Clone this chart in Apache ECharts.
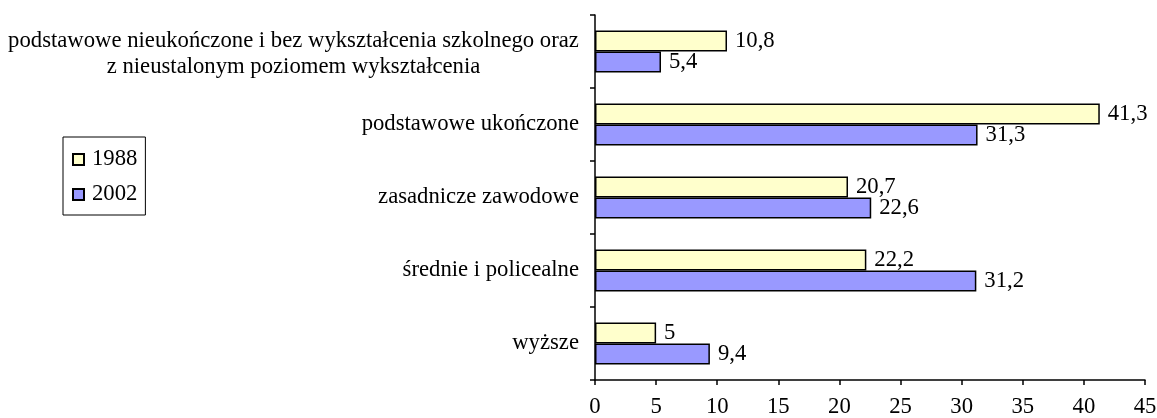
<!DOCTYPE html>
<html>
<head>
<meta charset="utf-8">
<script src="https://cdn.jsdelivr.net/npm/echarts@6/dist/echarts.min.js"></script>
<style>
    html, body { margin: 0; padding: 0; background: #fff; }
    #chart { width: 1157px; height: 418px; }
</style>
</head>
<body>
<div id="chart"></div>
<script>
// Kategorie od góry do dołu
const categories = [
    'podstawowe nieukończone i bez wykształcenia szkolnego oraz\nz nieustalonym poziomem wykształcenia',
    'podstawowe ukończone',
    'zasadnicze zawodowe',
    'średnie i policealne',
    'wyższe'
];
const seriesNames = ['1988', '2002'];
const values1988 = [10.8, 41.3, 20.7, 22.2, 5];
const values2002 = [5.4, 31.3, 22.6, 31.2, 9.4];
const xTicks = [0, 45, 5];

const font = 'Liberation Serif';
const fontSize = 22.7;
const chartEl = document.getElementById('chart');
const chart = echarts.init(chartEl, null, { renderer: 'canvas' });

// Szerokość pierwszej linii długiej etykiety (żeby druga linia była wyśrodkowana)
function measure(text) {
    const ctx = document.createElement('canvas').getContext('2d');
    ctx.font = fontSize + 'px "' + font + '"';
    return Math.ceil(ctx.measureText(text).width);
}
const longLabelWidth = measure(categories[0].split('\n')[0]);

function formatValue(v) {
    return String(v).replace('.', ',');
}

const barLabel = {
    show: true,
    position: 'right',
    distance: 8,
    color: '#000',
    fontFamily: font,
    fontSize: fontSize,
    formatter: function (p) {
        return formatValue(p.value);
    }
};

const option = {
    backgroundColor: '#fff',
    animation: false,
    legend: {
        orient: 'vertical',
        left: 63,
        top: 137,
        padding: [11, 8, 9, 9],
        itemGap: 12,
        itemWidth: 11,
        itemHeight: 11,
        borderColor: '#000',
        borderWidth: 1,
        icon: 'rect',
        data: seriesNames,
        textStyle: {
            color: '#000',
            fontFamily: font,
            fontSize: fontSize,
            padding: [0, 0, 0, 3]
        }
    },
    grid: {
        left: 595,
        right: 12,
        top: 15,
        bottom: 38,
        containLabel: false,
        outerBoundsMode: 'none'
    },
    xAxis: {
        type: 'value',
        min: xTicks[0],
        max: xTicks[1],
        interval: xTicks[2],
        axisLine: { show: true, lineStyle: { color: '#000', width: 1.5 } },
        axisTick: { show: true, length: 5, lineStyle: { color: '#000', width: 1.5 } },
        axisLabel: {
            color: '#000',
            fontFamily: font,
            fontSize: fontSize,
            margin: 16
        },
        splitLine: { show: false }
    },
    yAxis: {
        type: 'category',
        inverse: true,
        data: categories,
        axisLine: { show: true, lineStyle: { color: '#000', width: 1.5 } },
        axisTick: { show: true, length: 5, lineStyle: { color: '#000', width: 1.5 } },
        axisLabel: {
            color: '#000',
            fontFamily: font,
            fontSize: fontSize,
            margin: 16,
            formatter: function (value) {
                if (value.indexOf('\n') >= 0) {
                    return '{c|' + value + '}';
                }
                return value;
            },
            rich: {
                c: {
                    width: longLabelWidth,
                    align: 'center',
                    color: '#000',
                    fontFamily: font,
                    fontSize: fontSize,
                    lineHeight: 26,
                    padding: [6, 0, 0, 0]
                }
            }
        },
        splitLine: { show: false }
    },
    series: [
        {
            name: seriesNames[0],
            type: 'bar',
            data: values1988,
            barWidth: 21,
            barGap: '0%',
            itemStyle: { color: '#FFFFCC', borderColor: '#000', borderWidth: 1.5 },
            label: barLabel
        },
        {
            name: seriesNames[1],
            type: 'bar',
            data: values2002,
            barWidth: 21,
            barGap: '0%',
            itemStyle: { color: '#9999FF', borderColor: '#000', borderWidth: 1.5 },
            label: barLabel
        }
    ]
};

chart.setOption(option);
</script>
</body>
</html>
